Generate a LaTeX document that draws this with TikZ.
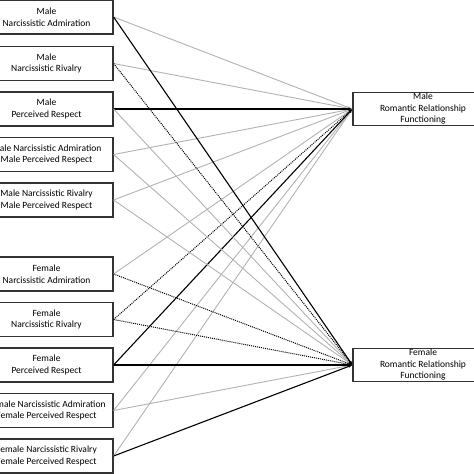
\documentclass[tikz,border=0pt]{standalone}
\usepackage{fontspec}
\setmainfont{Carlito}
\usetikzlibrary{arrows.meta}

\begin{document}
\begin{tikzpicture}[x=1pt, y=-1pt, every node/.style={align=center, font=\fontsize{9.5}{11.5}\selectfont},
    predbox/.style={draw=black!80, line width=1.2pt, minimum width=133pt, minimum height=34pt, inner sep=0pt},
    outbox/.style={draw=black!80, line width=1.2pt, minimum width=140pt, minimum height=33pt, inner sep=0pt},
    >={Latex[length=4pt,width=3pt]},
    nsline/.style={->, black!30, line width=0.9pt},
    sigline/.style={->, black, line width=1.1pt},
    trendline/.style={->, black, dash pattern=on 1pt off 1pt, line width=1pt}]
    \useasboundingbox (0,0) rectangle (474,474);
    \node[predbox] (MNA) at (46.5, 17) {Male\\Narcissistic Admiration};
    \node[predbox] (MNR) at (46.5, 63.5) {Male\\Narcissistic Rivalry};
    \node[predbox] (MPR) at (46.5, 109) {Male\\Perceived Respect};
    \node[predbox] (MNAxPR) at (46.5, 154.5) {Male Narcissistic Admiration\\Male Perceived Respect};
    \node[predbox] (MNRxPR) at (46.5, 200) {Male Narcissistic Rivalry\\Male Perceived Respect};
    \node[predbox] (FNA) at (46.5, 274) {Female\\Narcissistic Admiration};
    \node[predbox] (FNR) at (46.5, 319.5) {Female\\Narcissistic Rivalry};
    \node[predbox] (FPR) at (46.5, 365) {Female\\Perceived Respect};
    \node[predbox] (FNAxPR) at (46.5, 410.5) {Female Narcissistic Admiration\\Female Perceived Respect};
    \node[predbox] (FNRxPR) at (46.5, 456) {Female Narcissistic Rivalry\\Female Perceived Respect};
    \node[outbox] (MRRF) at (423, 109) {Male\\Romantic Relationship\\Functioning};
    \node[outbox] (FRRF) at (423, 365) {Female\\Romantic Relationship\\Functioning};
    % paths to male outcome
    \draw[nsline] (MNA.east) -- (MRRF.west);
    \draw[nsline] (MNR.east) -- (MRRF.west);
    \draw[nsline] (MNAxPR.east) -- (MRRF.west);
    \draw[nsline] (MNRxPR.east) -- (MRRF.west);
    \draw[nsline] (FNA.east) -- (MRRF.west);
    \draw[nsline] (FNAxPR.east) -- (MRRF.west);
    \draw[nsline] (FNRxPR.east) -- (MRRF.west);
    \draw[trendline] (FNR.east) -- (MRRF.west);
    \draw[sigline] (MPR.east) -- (MRRF.west);
    \draw[sigline] (FPR.east) -- (MRRF.west);
    % paths to female outcome
    \draw[nsline] (MPR.east) -- (FRRF.west);
    \draw[nsline] (MNAxPR.east) -- (FRRF.west);
    \draw[nsline] (MNRxPR.east) -- (FRRF.west);
    \draw[nsline] (FNAxPR.east) -- (FRRF.west);
    \draw[trendline] (MNR.east) -- (FRRF.west);
    \draw[trendline] (FNA.east) -- (FRRF.west);
    \draw[trendline] (FNR.east) -- (FRRF.west);
    \draw[sigline] (MNA.east) -- (FRRF.west);
    \draw[sigline] (FPR.east) -- (FRRF.west);
    \draw[sigline] (FNRxPR.east) -- (FRRF.west);
\end{tikzpicture}
\end{document}
